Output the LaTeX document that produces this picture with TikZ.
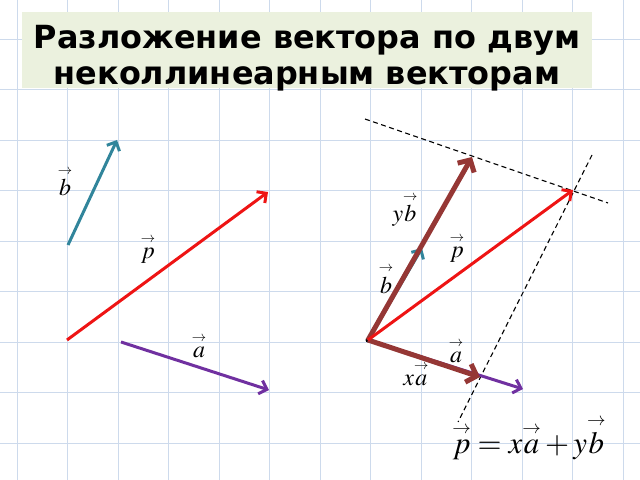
\documentclass[tikz,border=0pt]{standalone}
\usepackage{amsmath}
\usepackage{mathptmx}
\usepackage{fontspec}
\newfontfamily\titlefont{DejaVu Sans}
\usepackage{tikz}
\usetikzlibrary{arrows.meta}

\definecolor{gridblue}{RGB}{205,218,236}
\definecolor{titlebg}{RGB}{235,241,222}
\definecolor{vteal}{RGB}{49,133,155}
\definecolor{vred}{RGB}{238,20,20}
\definecolor{vpurple}{RGB}{112,48,160}
\definecolor{vbrown}{RGB}{149,55,53}

\newcommand{\vvec}[1]{\overset{\scriptscriptstyle\rightarrow}{#1}}

\begin{document}
\begin{tikzpicture}[x=1bp, y=-1bp,
	gridline/.style={draw=gridblue, line width=0.8bp},
	vec/.style={line width=3bp, arrows={-Straight Barb[length=7bp, width=14bp]}},
	bigvec/.style={line width=5bp, draw=vbrown, arrows={-Straight Barb[length=9bp, width=19bp]}},
	helpline/.style={line width=1.1bp, dash pattern=on 5bp off 3.5bp},
	lbl/.style={anchor=base, inner sep=0pt, font=\fontsize{24}{24}\selectfont}]

	\useasboundingbox (0, 0) rectangle (640, 480);

	\foreach \i in {0,...,12}
		\draw[gridline] ({17+50.5*\i}, 0) -- ({17+50.5*\i}, 480);
	\foreach \j in {0,...,8}
		\draw[gridline] (0, {39+50.5*\j}) -- (640, {39+50.5*\j});

	\node[fill=titlebg, minimum width=570bp, minimum height=76bp] (title) at (307, 50) {};
	\node[align=center, inner sep=0pt, font=\titlefont\bfseries\fontsize{32}{36}\selectfont] (titletext) at (307, 58) {Разложение вектора по двум\\неколлинеарным векторам};

	% left side
	\coordinate (b0) at (68, 245);
	\coordinate (b1) at (117, 140);
	\coordinate (p0) at (67, 340);
	\coordinate (p1) at (268, 192);
	\coordinate (a0) at (121, 342);
	\coordinate (a1) at (269, 390);

	\draw [vec, vteal] (b0) -- (b1);
	\draw [vec, vred] (p0) -- (p1);
	\draw [vec, vpurple] (a0) -- (a1);

	\node[lbl] (lb1) at (65, 196) {$\vvec{b}$};
	\node[lbl] (lp1) at (148, 258) {$\vvec{p}$};
	\node[lbl] (la1) at (199, 357) {$\vvec{a}$};

	% right side
	\node[shape=circle, fill=black, inner sep=0pt, minimum size=5bp] (O) at (368, 340) {};
	\coordinate (b2) at (422, 248);
	\coordinate (yb2) at (472, 157);
	\coordinate (p2) at (573, 190);
	\coordinate (a2) at (523, 389);
	\coordinate (xa2) at (480, 377);

	\coordinate (d1) at (365, 119);
	\coordinate (d2) at (608, 203);
	\coordinate (d3) at (592, 155);
	\coordinate (d4) at (458, 422);

	\draw [helpline] (d1) -- (d2);
	\draw [helpline] (d3) -- (d4);

	\node[lbl] (lxa) at (416, 385) {$x\vvec{a}$};

	\draw [vec, vpurple] (O.center) -- (a2);
	\draw [vec, vteal] (O.center) -- (b2);
	\draw [bigvec] (O.center) -- (xa2);
	\draw [bigvec] (O.center) -- (yb2);
	\draw [vec, vred] (O.center) -- (p2);

	\node[lbl] (lyb) at (405, 222) {$y\vvec{b}$};
	\node[lbl] (lp2) at (457, 257) {$\vvec{p}$};
	\node[lbl] (lb2) at (386, 293) {$\vvec{b}$};
	\node[lbl] (la2) at (456, 362) {$\vvec{a}$};

	\node[lbl, font=\fontsize{31}{31}\selectfont] (formula) at (529, 453) {$\vvec{p}=x\vvec{a}+y\vvec{b}$};

\end{tikzpicture}
\end{document}
